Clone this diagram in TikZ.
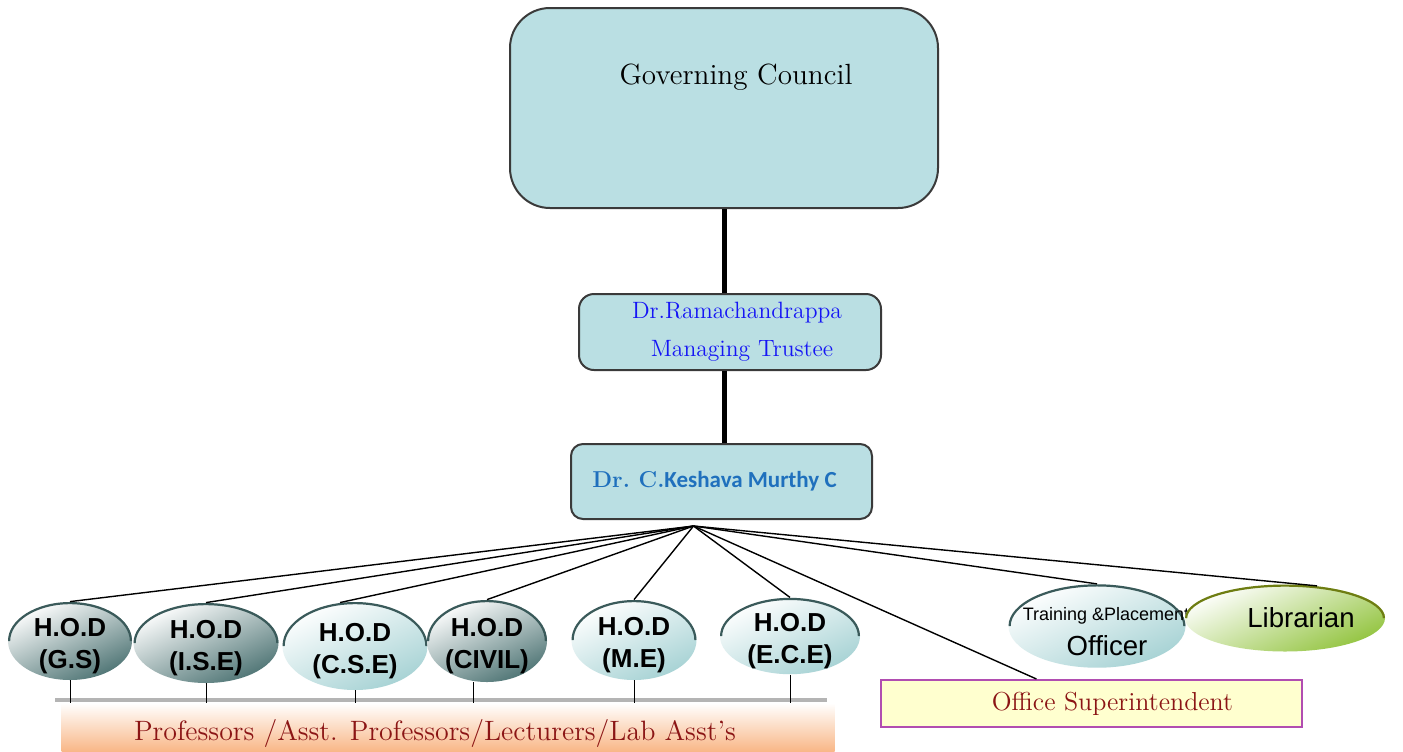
\documentclass[tikz,border=0pt]{standalone}
\usepackage{fontspec}
\usepackage{xcolor}
\usepackage{tikz}
\usetikzlibrary{calc}
\usetikzlibrary{positioning,shapes.geometric}
\newfontfamily\arialfont{Liberation Sans}
\newfontfamily\calibrifont{Carlito}

\definecolor{boardfill}{HTML}{BADFE3}
\definecolor{boxline}{HTML}{3A3A3A}
\definecolor{trusteeblue}{HTML}{1515F5}
\definecolor{principalblue}{HTML}{1F70BD}
\definecolor{darkred}{HTML}{8B1515}
\definecolor{hoddark}{HTML}{4E7474}
\definecolor{hodlight}{HTML}{A6D2D4}
\definecolor{rimteal}{HTML}{3A5A5A}
\definecolor{libgreen}{HTML}{93C440}
\definecolor{rimolive}{HTML}{6E7D12}
\definecolor{officefill}{HTML}{FFFFCF}
\definecolor{officeline}{HTML}{B14DB1}
\definecolor{profline}{HTML}{B4B4B4}
\definecolor{proforange}{HTML}{F7A56A}

\begin{document}
\begin{tikzpicture}[
  x=0.5pt, y=-0.5pt,
  board/.style={draw=boxline, line width=1pt, fill=boardfill},
  council/.style={board, rounded corners=20pt, minimum width=214pt, minimum height=100pt,
    font=\fontsize{14.6pt}{17pt}\selectfont},
  trustee/.style={board, rounded corners=7.5pt, minimum width=151pt, minimum height=38pt,
    align=center, text=trusteeblue, font=\fontsize{11.8pt}{19pt}\selectfont},
  principal/.style={board, rounded corners=6pt, minimum width=150.5pt, minimum height=37.5pt,
    text=principalblue, font=\fontsize{11.5pt}{14pt}\selectfont},
  spine/.style={line width=2.5pt, draw=black},
  fan/.style={line width=0.7pt, draw=black},
  drop/.style={line width=0.5pt, draw=black},
  shelf/.style={line width=2pt, draw=profline},
  rim/.style={path picture={
    \draw[#1, line width=2.2pt]
      (path picture bounding box.west)
      .. controls ($(path picture bounding box.west)!0.5523!(path picture bounding box.north west)$)
              and ($(path picture bounding box.north)!0.5523!(path picture bounding box.north west)$)
      .. (path picture bounding box.north)
      .. controls ($(path picture bounding box.north)!0.5523!(path picture bounding box.north east)$)
              and ($(path picture bounding box.east)!0.5523!(path picture bounding box.north east)$)
      .. (path picture bounding box.east);}},
  hod/.style={ellipse, inner sep=0pt, top color=white, bottom color=#1, shading angle=25,
    rim=rimteal, align=center, text height=27pt, text depth=0pt,
    font=\arialfont\bfseries\fontsize{13pt}{16pt}\selectfont},
  staff/.style={ellipse, inner sep=0pt, top color=white, bottom color=#1, shading angle=25,
    align=center, font=\arialfont\fontsize{13.8pt}{17.5pt}\selectfont},
  profbar/.style={rectangle, top color=white, bottom color=proforange,
    minimum width=386.5pt, minimum height=30pt, text=darkred,
    font=\fontsize{14pt}{16pt}\selectfont},
  office/.style={draw=officeline, line width=1pt, fill=officefill,
    minimum width=210.5pt, minimum height=23.5pt, text=darkred,
    font=\fontsize{13pt}{14pt}\selectfont}
]

\fill[white] (0,0) rectangle (1403,751);
\useasboundingbox (0,0) rectangle (1403,751);

% ------------------------------------------------------------
% Top: council, trustee, principal
% ------------------------------------------------------------
\node[council] (gc) at (724,108) {\raisebox{12pt}[0pt][0pt]{\hspace*{12pt}Governing Council}};
\node[trustee, below=42pt of gc, xshift=3pt] (tr)
{\hspace*{7pt}Dr.Ramachandrappa\\\hspace*{12pt}Managing Trustee};
\node[principal, below=36pt of tr, xshift=-4.25pt] (pr)
{\textbf{Dr.\ C.}{\calibrifont\bfseries Keshava Murthy C}\hspace*{7pt}};

\draw[spine] (gc.south) -- (gc.south |- tr.north);
\draw[spine] (gc.south |- tr.south) -- (gc.south |- pr.north);

\coordinate (hub) at ([xshift=-14pt,yshift=-3pt]pr.south);

% ------------------------------------------------------------
% Heads of departments and staff
% ------------------------------------------------------------
\node[hod=hoddark, minimum width=62pt, minimum height=39pt]     (hodgs)    at (70,641)  {H.O.D\\(G.S)};
\node[hod=hoddark, minimum width=72.5pt, minimum height=40pt]   (hodise)   at (206,643) {H.O.D\\(I.S.E)};
\node[hod=hodlight, minimum width=72.5pt, minimum height=44pt]  (hodcse)   at (355,646) {H.O.D\\(C.S.E)};
\node[hod=hoddark, minimum width=60pt, minimum height=41pt]     (hodcivil) at (487,641) {H.O.D\\(CIVIL)};
\node[hod=hodlight, minimum width=62.5pt, minimum height=40pt]  (hodme)    at (634,640) {H.O.D\\(M.E)};
\node[hod=hodlight, minimum width=70pt, minimum height=36pt]    (hodece)   at (790,636) {H.O.D\\(E.C.E)};

\node[staff=hodlight, rim=rimteal, minimum width=88.5pt, minimum height=41pt,
      text height=29.5pt, text depth=-7.5pt] (tpo) at (1097,626)
{\makebox[0pt]{\fontsize{9pt}{11pt}\selectfont\hspace*{9pt}Training \&Placement}\\\makebox[0pt]{\hspace*{10pt}Officer}};
\node[staff=libgreen, rim=rimolive, minimum width=100pt, minimum height=33.5pt] (lib) at (1285,618)
{\makebox[0pt]{\hspace*{16pt}Librarian}};

% ------------------------------------------------------------
% Staff bars
% ------------------------------------------------------------
\node[profbar] (prof) at (448,733)
{Professors /Asst. Professors/Lecturers/Lab Asst’s\hspace*{13pt}};
\draw[shelf] ([xshift=-3pt,yshift=1.5pt]prof.north west) -- ([xshift=-4pt,yshift=1.5pt]prof.north east);

\node[office] (office) at (1091.5,703.5) {\hspace*{21pt}Office Superintendent};

% lines from principal to everyone below
\draw[fan] (hub) -- (hodgs.north);
\draw[fan] (hub) -- (hodise.north);
\draw[fan] (hub) -- (hodcse.109);
\draw[fan] (hub) -- (hodcivil.north);
\draw[fan] (hub) -- (hodme.north);
\draw[fan] (hub) -- (hodece.north);
\draw[fan] (hub) -- (office.156);
\draw[fan] (hub) -- (tpo.north);
\draw[fan] (hub) -- (lib.45);

% drops from heads to the staff bar
\draw[drop] (hodgs.south) -- (hodgs.south |- prof.north);
\draw[drop] (hodise.south) -- (hodise.south |- prof.north);
\draw[drop] (hodcse.south) -- (hodcse.south |- prof.north);
\draw[drop] ([xshift=-7pt]hodcivil.south) -- ([xshift=-7pt]hodcivil.south |- prof.north);
\draw[drop] (hodme.south) -- (hodme.south |- prof.north);
\draw[drop] (hodece.south) -- (hodece.south |- prof.north);

\end{tikzpicture}
\end{document}
